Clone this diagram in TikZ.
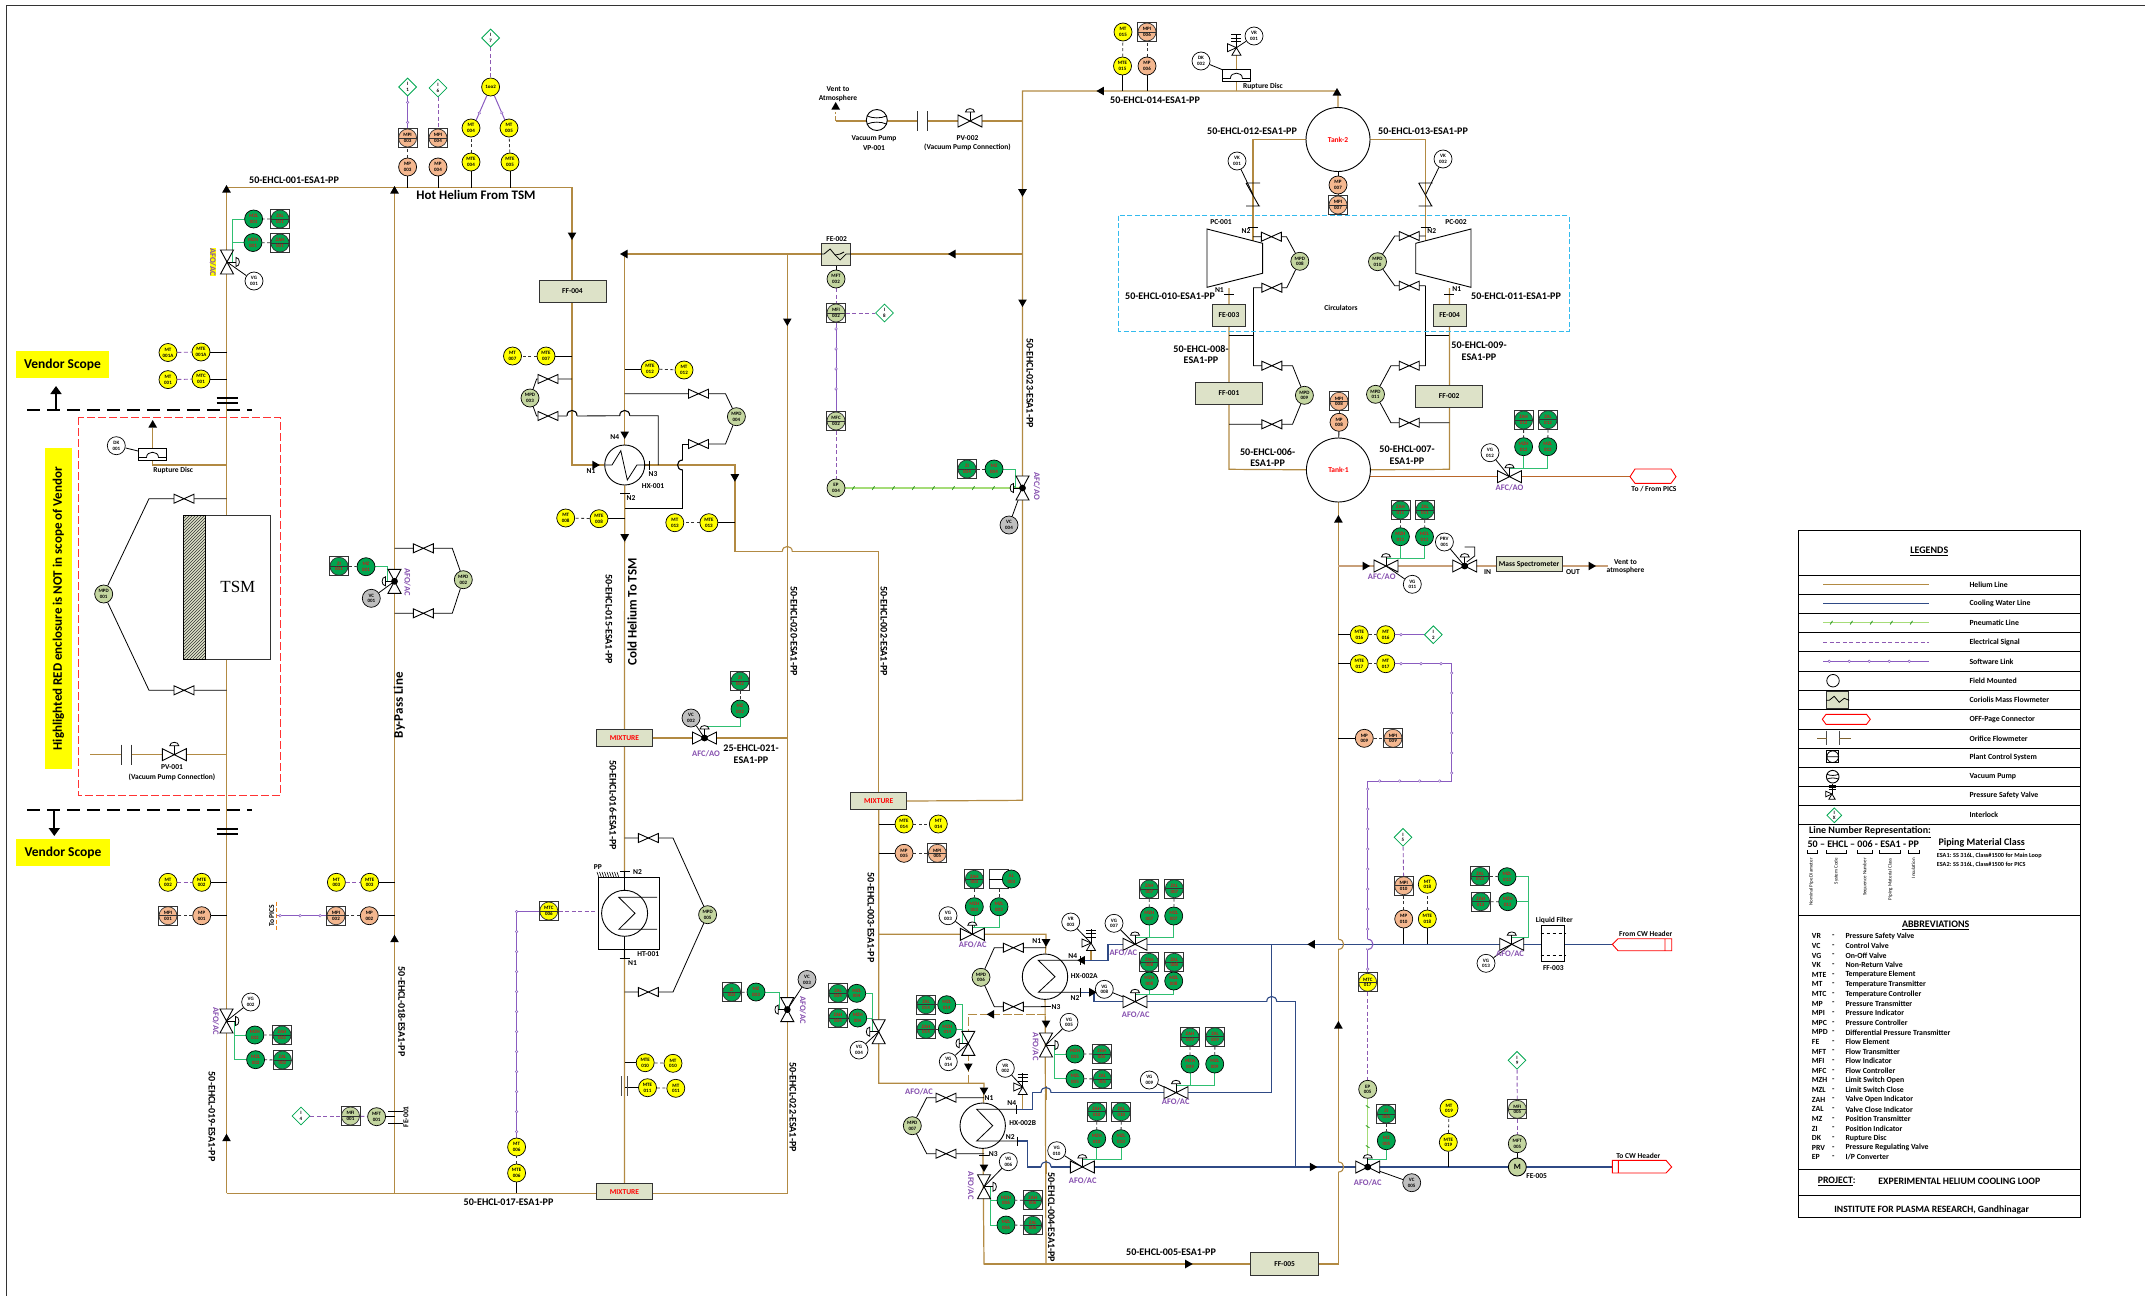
\documentclass[tikz,border=0pt]{standalone}
\usepackage{fontspec}
\setmainfont{Carlito}
\newfontfamily\tsmfont{Liberation Serif}
\usetikzlibrary{arrows.meta,backgrounds,calc,decorations.markings,patterns,shapes.geometric}
\definecolor{hecol}{HTML}{B28A43}
\definecolor{cwcol}{HTML}{2F4A85}
\definecolor{rustcol}{HTML}{B9662A}
\definecolor{speccol}{HTML}{C8A07A}
\definecolor{linkcol}{HTML}{8A5CC0}
\definecolor{sigcol}{HTML}{7030A0}
\definecolor{gncol}{HTML}{2FBF71}
\definecolor{pncol}{HTML}{A5DC78}
\definecolor{instyel}{HTML}{FFFF00}
\definecolor{instgrn}{HTML}{00A650}
\definecolor{instpch}{HTML}{F4B78F}
\definecolor{instolv}{HTML}{C4D6A0}
\definecolor{instgry}{HTML}{BFBFBF}
\definecolor{boxcol}{HTML}{DDE2C8}
\definecolor{tagred}{HTML}{D01818}
\definecolor{iblue}{HTML}{33BBEE}
\newcommand{\tagfont}{\fontsize{5}{5.8}\selectfont\bfseries}
\newcommand{\sz}[1]{\fontsize{#1}{#1}\selectfont\bfseries}
\tikzset{
inst/.style={circle, draw, line width=.7, minimum size=18, inner sep=0, align=center, font=\tagfont},
panel/.style={rectangle, draw=black!80, line width=.8, minimum size=19, inner sep=0, align=center, font=\tagfont,
  path picture={\draw[fill=#1, line width=.7] (path picture bounding box.center) circle (9pt);
  \draw[line width=.7] (path picture bounding box.west) -- (path picture bounding box.east);}},
ilk/.style={diamond, draw=instgrn, fill=white, line width=.8, minimum size=18, inner sep=0, align=center, font=\tagfont},
equip/.style={rectangle, draw=black!80, fill=boxcol, line width=1, inner sep=0, font=\sz{7.5}},
lbl/.style={inner sep=0, font=\sz{7.5}, align=center},
lnum/.style={inner sep=0, font=\sz{10.1}, align=center},
afo/.style={inner sep=0, font=\sz{8.5}, text=sigcol!85},
flowtip/.style={regular polygon, regular polygon sides=3, fill=black, minimum size=10, inner sep=0},
he/.style={draw=hecol, line width=1.2},
cw/.style={draw=cwcol, line width=1.1},
tap/.style={draw=black, line width=.8},
sig/.style={draw=black!80, line width=.8, dash pattern=on 3pt off 2.5pt},
esig/.style={draw=sigcol!80, line width=.9, dash pattern=on 4pt off 2.5pt},
gn/.style={draw=gncol, line width=1},
slink/.style={draw=linkcol, line width=1, postaction={decorate, decoration={markings,
  mark=between positions 6pt and -3pt step 20pt with {\draw[linkcol, fill=white, line width=.5] (0,0) circle (1.3pt);}}}},
pneu/.style={draw=pncol, line width=1.2, postaction={decorate, decoration={markings,
  mark=between positions 8pt and -3pt step 20pt with {\draw[green!50!black!70!pncol, line width=.8] (-1.2,1.8) -- (1.2,-1.8);}}}},
pics/vlv/.style args={#1/#2}{code={\draw[fill=white, line width=.9] (-#1,-#2) -- (#1,#2) -- (#1,-#2) -- (-#1,#2) -- cycle;}},
pics/act/.style={code={\draw[line width=.8] (0,0) -- (0,-9);
  \draw[fill=white, line width=.8] (-4.5,-9) .. controls (-4.5,-13.5) and (4.5,-13.5) .. (4.5,-9) -- cycle;}},
pics/hop/.style args={#1/#2}{code={\draw[white, line width=2.4] (-5,0) -- (5,0); \draw[#2, line width=1.1] (0,-7) -- (0,7);
  \draw[#1, line width=1.1] (-5,0) .. controls (-5,-7) and (5,-7) .. (5,0);}},
pics/rdisc/.style={code={\draw[fill=white, line width=.8] (-14,-6) rectangle (14,6);
  \draw[line width=.8] (-14,3) -- (-6,3) .. controls (-6,-4) and (6,-4) .. (6,3) -- (14,3);}},
pics/psv/.style={code={\draw[fill=white, line width=.8] (0,0) -- (4.5,7.5) -- (-4.5,7.5) -- cycle;
  \draw[fill=white, line width=.8] (0,0) -- (-9,-4) -- (-9,4) -- cycle;
  \draw[line width=.8] (0,0) -- (0,-14) (-5,-13) -- (5,-13) (-5,-9.5) -- (5,-9.5) (-5,-6) -- (5,-6);}},
pics/vpump/.style={code={\draw[fill=white, line width=.9] (0,0) circle (10.5pt);
  \draw[line width=.8] (-9.6,-4) .. controls (-4,-1.5) and (4,-1.5) .. (9.6,-4) (-9.6,4) .. controls (-4,1.5) and (4,1.5) .. (9.6,4);}},
pics/ckv/.style={code={\draw[line width=.9] (-7,-11.5) -- (7,-11.5) (-7,-11.5) -- (6,11.5) (-7,11.5) -- (7,11.5);}},
}
\begin{document}
\begin{tikzpicture}[x=1pt, y=-1pt]
\useasboundingbox (0,0) rectangle (2145,1296);
\draw[line width=1, black!80] (6,1296) -- (6,5) -- (2145,5);
% pipe corners
\foreach \n/\x/\y in {pa1/226.5/187.5, pb1/394.5/187.5, pc1/572/187.5, pa2/226.5/1193.3, pb2/394.5/1193.3, pf2/787.3/1193.3,
  pd1/624.7/254, pf1/787.3/254, ph1/1022.5/254, ph0/1022.5/91, phv/1022.5/121, phm/1022.5/800.3,
  pe1/734.9/465, pe2/734.9/551.7, pg0/878.7/551.7, pg1/878.7/934.3, pg2/878.7/1083.3, pi1/1046/934.3, pi2/1046/1264,
  pj1/984/1083.3, pj2/984/1264, pm2/1338.4/1264, pk0/1229/288, pk1/1229/469.3, pl0/1253/241, pn0/1425.7/241, po0/1449.4/288, po1/1449.4/469.3,
  pst/1338.4/566, pvent/1608/566, pq1/968.3/1014.3, pq2/968.3/1083.3, pr1/1046/1014.3, cpics/1630/476.7,
  pvac/835.7/121, pvup/835.7/112, pvlf/90/754.7, prd1/152.7/465, prd2/152.7/428, prd3/226.5/465, ptie1/1229/335.7, ptie2/1253/335.7, ptie3/1425.7/335.7, ptie4/1449.4/335.7,
  psv1/1236.4/47.7, rd002/1236.4/75.4, rd001/152.5/454.5, ck1/1253/194.5, ck2/1425.7/194.5, psv3/1091/943, psv2/1022.7/1087, pp3/1091/960.3, pp2/1022.7/1109.3,
  cwin/1612.3/944.3, cwout/1612.3/1167, ca1/1108/944.3, ca2/1108/960.3, ca3/1080/960.3, cb0/1271.7/944.3, cb1/1271.7/1092.7, cb2/1032.3/1092.7, cb3/1032.3/1109.3, cb4/1016.7/1109.3,
  cc0/1295.7/1167, cc1/1295.7/1001.7, cc2/1094/1001.7, cc3/1094/992.3, cc4/1080/992.3, cd0/1027.7/1167, cd1/1027.7/1141, cd2/1017.3/1141,
  VV001/227/262, VV002/226.5/1021, VV003/972.3/934.3, VV004/878.7/1031.7, VV005/1046/1045, VV006/984/1186.7, VV007/1135/944.3, VV008/1135/1001.7, VV009/1176/1092.7, VV010/1082.3/1167, VV011/1386/566, VV012/1509.5/476.7, VV013/1511.7/944.3, VV014/968.3/1043.3,
  VQ001/394.5/581.3, VQ002/704.5/738, VQ003/787.3/1009.6, VQ004/1022.5/488, VQ005/1367.7/1167, VPRV/1464.7/566, VPV1/174.3/754.7, VPV2/970/121,
  gv01/184/498.7, gv02/184/690.3, gv03/423.3/548.3, gv04/423.3/613.3, gv05/548/379, gv06/548/416, gv07/698.5/393.7, gv08/698.5/444, gv09/648.3/838, gv10/648.3/992, gv11/1013.3/947.7, gv12/1013.3/1006.7, gv13/946/1097.7, gv14/946/1153.7,
  gv15/1271.4/236.7, gv16/1271.8/287.7, gv17/1271.8/365.7, gv18/1271.8/424.3, gv19/1409.2/236, gv20/1409.2/285.7, gv21/1409.2/365.7, gv22/1409.2/422.7,
  arA0/56/410, arA1/56/386, arB0/54.3/810.3, arB1/54.3/836}
  \coordinate (\n) at (\x,\y);
% instruments
\foreach \a/\b/\x/\y in {MT/001A/168/352.5, MTE/001A/201/352, MT/001/168/379.6, MTC/001/201/379, MT/002/168/882.3, MTE/002/201.7/882.3, MT/003/336.4/882.3, MTE/003/369.7/882.3,
  MT/004/471/128, MT/005/509/128, MTE/004/471/162, MTE/005/510/162, MT/006/516.6/1147, MTE/006/516.6/1173, MT/007/512.5/356, MTE/007/546/356, MT/008/565.7/518, MTE/008/599/518.7,
  MTE/010/645.2/1062.7, MT/010/673/1063.3, MTE/011/647.5/1087.7, MT/011/675.8/1088.3, MTE/012/650/369, MT/012/684/370, MT/013/674.8/522.7, MTE/013/708.9/522.7, MTE/014/904/824, MT/014/938.3/824,
  MT/015/1123/32, MTE/015/1122.5/66, MTE/016/1359.3/634.7, MT/016/1385.7/634.7, MTE/017/1359.3/663.7, MT/017/1385.7/663.7, MT/018/1427.3/884.3, MTE/018/1427.3/919, MT/019/1449/1108.3, MTE/019/1448.3/1142.3}
  \node[inst, fill=instyel] (\a\b) at (\x,\y) {\a\\\b};
\node[inst, fill=instyel] (loo2) at (490.6,87) {1oo2};
\node[panel=instyel] (MTC006) at (548.8,911) {MTC\\006};
\node[panel=instyel] (MTC017) at (1367.7,982.3) {MTC\\017};
\foreach \a/\b/\x/\y in {MP/001/201.7/915.7, MP/002/369.3/915.7, MP/003/407.6/167, MP/004/438/167, MP/005/904/853.3, MP/006/1147/66, MP/007/1338/185, MP/008/1339/422.3, MP/009/1364.3/738.3, MP/010/1403.7/919}
  \node[inst, fill=instpch] (\a\b) at (\x,\y) {\a\\\b};
\foreach \a/\b/\x/\y in {MPI/001/168/915.7, MPI/002/336/915.7, MPI/003/407.6/138, MPI/004/438/138, MPI/005/937.3/853.3, MPI/006/1147/32, MPI/007/1338/205, MPI/008/1339/401.3, MPI/009/1393/738.3, MPI/010/1403.7/885.7}
  \node[panel=instpch] (\a\b) at (\x,\y) {\a\\\b};
\foreach \a/\b/\x/\y in {MPD/001/103.7/594, MPD/002/463.3/579.7, MPD/003/530/398, MPD/004/736.4/416.7, MPD/005/707.6/914.7, MPD/006/981/977.3, MPD/007/912.3/1125.7, MPD/008/1299.8/261.3, MPD/009/1304.4/395.3, MPD/010/1377.5/261.7, MPD/011/1375.5/394.3,
  MFT/001/376.6/1116.7, MFT/002/836/279, MFT/005/1517.3/1143.7, EP/004/836/488, EP/005/1367.7/1089.3}
  \node[inst, fill=instolv] (\a\b) at (\x,\y) {\a\\\b};
\foreach \a/\b/\x/\y in {MFI/001/350.5/1116, MFI/002/836/313, MFC/002/836/421, MFI/005/1517.3/1109.3}
  \node[panel=instolv] (\a\b) at (\x,\y) {\a\\\b};
\foreach \a/\b/\x/\y in {MZL/001/253.6/219, MZH/001/253/242.5, MZH/002/254.9/1035, MZL/002/255.6/1059.7, MZ/001/366/566.7, MZ/002/740/709, MZ/003/756/992, MZ/004/994/469, MZ/005/1386.3/1140.7,
  MZH/003/974.3/906.7, MZL/003/999/906.7, MZL/004/856.7/993.3, MZH/004/857.7/1018, MZH/005/1075/1054, MZL/005/1075/1078.7, MZH/006/1006/1200.3, MZL/006/1006/1225, MZH/007/1149.3/916, MZL/007/1173.7/916,
  MZH/008/1149.3/981, MZL/008/1173.7/981, MZH/009/1190/1064, MZL/009/1214.7/1064, MZH/010/1096.7/1138.7, MZL/010/1121/1138.7, MZH/011/1400.4/536.7, MZL/011/1424.5/536.7, MZH/012/1523.6/446.7, MZL/012/1547.8/446.7,
  MZL/013/1507/876.7, MZH/013/1507.7/901.7, MZL/014/946.7/1004.7, MZH/014/947.3/1029.3}
  \node[inst, fill=instgrn, text=tagred] (\a\b) at (\x,\y) {\a\\\b};
\foreach \a/\b/\x/\y in {ZAL/001/280/219, ZAH/001/280/243, ZAH/002/282/1035, ZAL/002/282.4/1060, ZI/001/339/566.3, ZI/002/740/681, ZI/003/731.7/992.3, ZI/004/967/469, ZI/005/1386.3/1114,
  ZAH/003/974.3/879.3, ZAL/004/838/993.3, ZAH/004/838/1018, ZAH/005/1101.7/1054, ZAL/005/1102.3/1079, ZAH/006/1032.7/1200.3, ZAL/006/1032.7/1225.3, ZAH/007/1149.3/889, ZAL/007/1174.3/888.7, ZAH/008/1149.3/962.3, ZAL/008/1174.3/962.3,
  ZAH/009/1190/1037, ZAL/009/1215/1036.7, ZAH/010/1096.7/1111.7, ZAL/010/1121.3/1111.7, ZAH/011/1400.4/510, ZAL/011/1425/510, ZAH/012/1523.6/420, ZAL/012/1548/419.7, ZAL/013/1480/876.3, ZAH/013/1480.7/901.7, ZAL/014/926/1004.7, ZAH/014/926/1029.3}
  \node[panel=instgrn, text=tagred] (\a\b) at (\x,\y) {\a\\\b};
\node[rectangle, draw=black!80, minimum size=19, inner sep=0] (zal003b) at (999,879) {};
\draw[line width=.7] (zal003b.west) -- (zal003b.east);
\node[inst, fill=instgrn, text=tagred] (ZAL003) at (1011.3,879) {AL\\003};
\foreach \a/\b/\x/\y in {VG/001/254/281, VG/002/250.7/1002, VG/003/948/915.7, VG/004/859/1050, VG/005/1069/1022.3, VG/006/1008.3/1161.7, VG/007/1114/923.3, VG/008/1104.3/989.3, VG/009/1149.3/1080, VG/010/1056.7/1150.7, VG/011/1412.3/584.3, VG/012/1490/452.7, VG/013/1486/963.3, VG/014/948.3/1061.7,
  VK/001/1237/161, VK/002/1443/159, VR/001/1254/36, VR/002/1005.3/1068.3, VR/003/1070.7/922, DK/001/116.3/445.7, DK/002/1201/61, PRV/001/1444.4/542}
  \node[inst, fill=white] (\a\b) at (\x,\y) {\a\\\b};
\foreach \a/\b/\x/\y in {VC/001/371.3/598.3, VC/002/691/718, VC/003/807/979.5, VC/004/1009/525, VC/005/1411.7/1182.7}
  \node[inst, fill=instgry] (\a\b) at (\x,\y) {\a\\\b};
\foreach \n/\x/\y in {1/407.6/87, 6/438/88, 7/490.6/38, 8/884.5/313, 4/301/1116, 2/1433.3/634.7, 5/1403/837.3, 9/1517/1060.3}
  \node[ilk] (ilk\n) at (\x,\y) {I\\\n};
% equipment
\foreach \n/\x/\y/\w/\h/\t in {ff004/572.5/291/67/22/FF-004, ff001/1229/393.2/67.3/21.7/FF-001, ff002/1449.2/396.5/67/21.6/FF-002, ff005/1284.6/1264/67.3/22.3/FF-005,
  fe003/1229/315.5/33.8/21.6/FE-003, fe004/1449.6/315.2/33.2/22.3/FE-004, fe002/836/254/28.8/22/{}, massp/1529/564.2/66/15/{Mass Spectrometer}}
  \node[equip, minimum width=\w, minimum height=\h] (\n) at (\x,\y) {\t};
\foreach \n/\x/\y in {mix1/624.5/1191.6, mix2/624.5/738, mix3/878.7/801.2}
  \node[equip, minimum width=56, minimum height=16.7, text=red] (\n) at (\x,\y) {MIXTURE};
\node[circle, draw, fill=white, line width=.9, minimum size=64, inner sep=0, text=red, font=\sz{7.5}] (tk1) at (1338.4,470) {Tank-1};
\node[circle, draw, fill=white, line width=.9, minimum size=64, inner sep=0, text=red, font=\sz{7.5}] (tk2) at (1338,139.5) {Tank-2};
\node[circle, draw, fill=white, line width=.9, minimum size=40] (hx001) at (624.7,465) {};
\node[circle, draw, fill=white, line width=.9, minimum size=45.4] (hx2a) at (1045,976.7) {};
\node[circle, draw, fill=white, line width=.9, minimum size=45.4] (hx2b) at (982.7,1125.7) {};
\node[rectangle, draw, fill=white, line width=1, minimum width=61.5, minimum height=71.6] (ht001) at (629.2,913.5) {};
\node[circle, draw, line width=.9, minimum size=46] (ht001c) at (624.6,913.3) {};
\node[rectangle, draw=black!80, fill=white, line width=1, minimum width=64.3, minimum height=143.3, font=\tsmfont\fontsize{17}{17}\selectfont] (tsm) at (237.85,587.35) {TSM};
\node[rectangle, draw=black, fill=boxcol, line width=.9, minimum width=22.4, minimum height=143.3] (tsmb) at (194.5,587.35) {};
\node[rectangle, draw=black, pattern=north east lines, pattern color=black!80, line width=.9, minimum width=22.4, minimum height=143.3] (tsmh) at (194.5,587.35) {};
\node[rectangle, draw, line width=.9, fill=white, minimum width=23.7, minimum height=36] (ff003) at (1552.8,943.7) {};
\node[circle, draw, fill=instolv, line width=.9, minimum size=18, inner sep=0, font=\sz{8}] (fe005m) at (1517.3,1167) {M};
\draw[line width=.9, dashed] (ff003.west |- 0,933.3) -- (ff003.east |- 0,933.3) (ff003.west |- 0,955) -- (ff003.east |- 0,955);
\begin{pgfonlayer}{background}
% helium
\draw[he] (pa2) -- (pa1) -- (pc1) |- (hx001.west);
\draw[he] (pb1) -- (pb2);
\draw[he] (pa2) -- (pf2) -- (pf1);
\draw[he] (hx001) -- (pd1) -- (ph1);
\draw[he] (hx001) -- (mix2) -- (mix1);
\draw[he] (hx001) -- (pe1) -- (pe2) -- (pg0) -- (mix3);
\draw[he] (mix3) -- (phm) -- (ph0) -| (tk2);
\draw[he] (mix2) -- (pf1 |- mix2);
\draw[he] (mix3) -- (pg2) -- (pj1) -- (hx2b);
\draw[he] (pg1) -- (pi1) -- (hx2a);
\draw[he] (hx2a) -- (pi2) -- (pj2) -- (hx2b);
\draw[he] (pj2) -- (pm2) -- (tk1);
\draw[he, dashed, line width=1.2, dash pattern=on 9pt off 2.5pt] (pr1) -- (pq1) -- (pq2);
\draw[he] (tk2) -| (pl0);
\draw[he] (tk2) -| (pn0);
\draw[he] (pk0) -- (pk1) -- (tk1);
\draw[he] (po0) -- (po1) -- (tk1);
\draw[he] (phv) -- (pvac);
\draw[he, dash pattern=on 5pt off 2pt] (pvac) -- (pvup);
\draw[he] (pvlf) -- (VPV1) -- (pa1 |- VPV1);
\draw[he] (prd2) -- (prd1) -- (prd3);
\draw[he] (ph0 -| psv1) -- (psv1);
\draw[he] (pp3) -- (psv3);
\draw[he] (pp2) -- (psv2);
\draw[draw=speccol, line width=1.3] (pst) -- (massp.west |- pst) (massp.east |- pst) -- (pvent);
\draw[draw=rustcol, line width=1.2] (tk1 |- cpics) -- (cpics);
% cooling water
\draw[cw] (cwin) -- (ca1) -- (ca2) -- (ca3);
\draw[cw] (cb0) -- (cb1) -- (cb2) -- (cb3) -- (cb4);
\draw[cw] (cc0) -- (cc1) -- (cc2) -- (cc3) -- (cc4);
\draw[cw] (cwout) -- (cd0) -- (cd1) -- (cd2);
% tapping points
\foreach \n/\p in {MTE001A/pa1, MTC001/pa1, MTE002/pa1, MP001/pa1, MTE003/pb1, MP002/pb1, MTE007/pc1, MTE008/pd1, MTE012/pd1, MTE013/pe1, MTE010/pd1, MTE014/pg0, MP005/pg0, MTE016/pm2, MTE017/pm2, MP009/pm2, MFT001/pb1}
  \draw[tap] (\n) -- (\p |- \n);
\draw[tap] (MTE011) -- (624.6,1087.7);
\foreach \n/\p in {MP003/pa1, MP004/pa1, MTE004/pa1, MTE005/pa1, MTE015/ph0, MP006/ph0, MP010/cwin, MTE018/cwin, MTE019/cwout, MTE006/pa2}
  \draw[tap] (\n) -- (\n |- \p);
\draw[tap] (MFT002) -- (fe002);
\draw[tap] (MP007) -- (tk2);
\draw[tap] (MP008) -- (tk1);
\draw[tap] (MFT005) -- (fe005m);
\foreach \m/\a/\b/\pa/\pb/\d in {MPD001/gv01/gv02/pa1/pa1/-35, MPD002/gv03/gv04/pb1/pb1/29, MPD003/gv05/gv06/pc1/gv06/-11.4, MPD004/gv07/gv08/pd1/gv08/27, MPD005/gv09/gv10/pd1/pd1/24.7,
  MPD006/gv11/gv12/pi1/pi1/-19, MPD007/gv13/gv14/pj1/pj1/-19.3, MPD008/gv15/gv16/pl0/pl0/15, MPD009/gv17/gv18/pl0/pk0/20.7, MPD010/gv19/gv20/pn0/pn0/-14.5, MPD011/gv21/gv22/pn0/po0/-18.3}
  \draw[tap] (\pa |- \a) -- (\a) -- ($(\a)+(\d,0)$) -- (\m) -- ($(\b)+(\d,0)$) -- (\b) -- (\pb |- \b);
\draw[tap] (gv06) -- (658.3,415.7) -- (658.3,465);
\draw[tap] (gv08) -- (682.8,444) -- (682.8,508) -- (pd1 |- 0,508);
\draw[tap] (gv16 -| pl0) -- (gv17 -| pl0);
\draw[tap] (gv20 -| pn0) -- (gv21 -| pn0);
\draw[tap] (ptie1) -- (ptie2) (ptie3) -- (ptie4);
% instrument signals
\foreach \a/\b in {MP001/MPI001, MP002/MPI002, MP003/MPI003, MTE004/MT004, MTE005/MT005, MTE006/MT006, MTE007/MT007, MTE008/MT008, MTE010/MT010, MTE011/MT011, MTE012/MT012, MTE013/MT013, MTE014/MT014, MP005/MPI005, MTE015/MT015, MP006/MPI006, MP007/MPI007, MP008/MPI008, MP009/MPI009, MP010/MPI010, MTE016/MT016, MTE017/MT017, MTE018/MT018, MTE019/MT019,
  ZI001/MZ001, ZI002/MZ002, ZI003/MZ003, ZI004/MZ004, ZI005/MZ005, zal003b/MZL003, ZAH003/MZH003}
  \draw[sig] (\a) -- (\b);
\foreach \i in {001,002,004,005,006,007,008,009,010,011,012,013,014}
  \draw[sig] (ZAL\i) -- (MZL\i) (ZAH\i) -- (MZH\i);
\foreach \a/\b in {MT001A/MTE001A, MT001/MTC001, MT002/MTE002, MT003/MTE003, ilk6/MPI004, ilk7/loo2, MFT002/MFI002, MFI002/ilk8, MFC002/EP004, ilk4/MFI001, MFI001/MFT001, ilk5/MPI010, MTC017/EP005, ilk9/MFI005, MFI005/MFT005}
  \draw[esig] (\a) -- (\b);
\draw[esig] (MTC006) -- (595.8,911);
\draw[slink] (ilk1) -- (MPI003);
\draw[slink] (MT004) -- (471,132) -- (loo2);
\draw[slink] (MT005) -- (509,129.5) -- (loo2);
\draw[slink] (MFI002) -- (MFC002);
\draw[slink] (MT016) -- (ilk2);
\draw[slink] (MT017) -- (1451.7,663.7) -- (1451.7,781) -- (1367.7,781) -- (MTC017);
\draw[slink] (MT006) -- (516.6,911) -- (MTC006);
\draw[slink] (MPI002) -- (276.7,915.7);
\draw[pneu] (EP004) -- (VQ004);
\draw[pneu] (EP005) -- (VQ005);
% valve links
\foreach \i in {001,002,003,004,005,006,007,008,009,010,011,012,013,014} \draw[tap] (VG\i) -- (VV\i);
\foreach \i in {001,002,003,004,005} \draw[tap] (VC\i) -- (VQ\i);
\draw[tap] (VK001) -- (ck1);
\draw[tap] (VK002) -- (ck2);
\draw[tap] (VR001) -- (psv1);
\draw[tap] (VR002) -- (psv2);
\draw[tap] (VR003) -- (psv3);
\draw[tap] (DK001) -- (rd001);
\draw[tap] (DK002) -- (rd002);
\draw[tap] (PRV001) -- (VPRV);
\foreach \i/\d in {003/11.3, 007/12, 008/4.3, 009/12, 010/11.6, 011/12, 012/12.3}
  \draw[gn] (MZL\i.south) -- ++(0,\d) -| (VV\i) (MZH\i.south) -- ++(0,\d);
\foreach \i/\d in {001/5, 002/8, 005/8, 006/6.7}
  \draw[gn] (MZL\i.west) -| ($(VV\i)+(\d,0)$) (MZH\i.west) -| ($(VV\i)+(\d,0)$);
\foreach \i/\d in {004/-6.7, 014/-6}
  \draw[gn] (MZL\i.east) -| ($(VV\i)+(\d,0)$) (MZH\i.east) -| ($(VV\i)+(\d,0)$);
\draw[gn] (MZL013.east) -| ($(VV013)+(17,-7)$) -- ($(VV013)+(0,-7)$) (MZH013.east) -- ($(VV013)+(17,-42.6)$);
\draw[gn] (MZ001.east) -| ($(VQ001)+(-7,0)$);
\draw[gn] (MZ003.east) -| ($(VQ003)+(-8,0)$);
\draw[gn] (MZ004.east) -| ($(VQ004)+(-7,0)$);
\draw[gn] (MZ002.south) -- ++(0,8) -| (VQ002);
\draw[gn] (MZ005.south) -- ++(0,9.6) -| (VQ005);
\end{pgfonlayer}
% arrow heads on the lines
\foreach \x/\y/\a [count=\i] in {226.5/190/0, 394.5/191/0, 572/235/180, 625/254/90, 787.3/321/180, 953/254/90, 1022.5/302/180, 1022.5/191.7/180, 1101.4/91/90, 1337/93/0, 624.7/434/180, 594.8/465/-90, 734.9/476.7/180, 624.7/536.7/180,
  226.5/1138.7/0, 394.5/939.7/0, 1338.4/520/0, 1338.4/1026/0, 1365/566/-90, 1591/566/-90, 1312.3/944.3/90, 1082.3/960.3/90, 1091.7/992.3/-90, 1312.3/1167/-90, 1046/941.7/180, 1046/1023/180, 991.7/1014.3/90, 968.3/1066/180, 984/1090/180, 984/1167/180, 1187.7/1264/-90, 835.7/107/0, 152.7/425/0}
  \node[flowtip, rotate=\a] (tip\i) at (\x,\y) {};
% valves
\foreach \n in {gv01,gv02,gv03,gv04,gv05,gv06,gv07,gv08,gv09,gv10,gv11,gv12,gv13,gv14,gv15,gv16,gv17,gv18,gv19,gv20,gv21,gv22}
  \pic at (\n) {vlv=10/4.5};
\foreach \n in {VV003,VV007,VV008,VV009,VV010,VV011,VV012,VV013,VPV1,VPV2,VPRV,VQ005,VQ002}
  {\pic at (\n) {act}; \pic at (\n) {vlv=12/6};}
\foreach \n/\a in {VV001/-90, VV002/-90, VV005/-90, VV006/-90, VV004/90, VV014/90, VQ001/90, VQ003/90, VQ004/90}
  {\pic[rotate=\a] at (\n) {act}; \pic[rotate=90] at (\n) {vlv=12/6.5};}
\foreach \n in {VQ001,VQ002,VQ003,VQ004,VQ005,VPRV}
  \fill (\n) circle (3.4pt);
\draw[tap] (VPRV) ++(0,-19) -- ++(10,0) -- ++(0,9) -- ++(-8,6);
\foreach \x/\y/\r/\a/\b in {572/415.7/0/black/hecol, 624.7/415.7/0/black/hecol, 682.8/465/90/black/hecol, 787.3/551.7/0/hecol/hecol, 1271.7/1001.7/0/cwcol/cwcol, 1046/1092.7/0/cwcol/hecol, 1046/1167/0/cwcol/hecol, 1338.4/944.3/-90/hecol/cwcol, 1338.4/1167/-90/hecol/cwcol, 1367.7/944.3/-90/linkcol/cwcol}
  \pic[rotate=\r] at (\x,\y) {hop=\a/\b};
\pic at (rd001) {rdisc};
\pic at (rd002) {rdisc};
\pic at (psv1) {psv};
\pic at (psv2) {psv};
\pic at (psv3) {psv};
\pic at (ck1) {ckv};
\pic at (ck2) {ckv};
\pic at (876.8,120) {vpump};
% orifices
\foreach \x/\y in {126.7/754.7, 922.5/121} {
  \fill[white] (\x-5,\y-9) rectangle (\x+5,\y+9);
  \draw[line width=.9, black!80] (\x-5,\y-10) -- (\x-5,\y+10) (\x+5,\y-10) -- (\x+5,\y+10);}
\draw[line width=.9, black!70] (621.9,1076) -- (621.9,1096) (627.3,1076) -- (627.3,1096);
\draw[tap] (388,1111) -- (402.6,1111) (388,1123) -- (402.6,1123);
% nozzles
\foreach \x/\y in {624.7/871.3, 624.7/958.3, 1253/227.3, 1229/294, 1425.7/227.3, 1449.4/294.3, 625/493.3, 1046/1006.7, 984/1155}
  \draw[tap] (\x-5,\y) -- (\x+5,\y);
\foreach \x/\y in {649.5/465, 1080/960.3, 1080/992.3, 1016.7/1109.3, 1017.3/1141}
  \draw[tap] (\x,\y-4.5) -- (\x,\y+4.5);
% exchangers and circulators
\draw[tap] (hx001.west) -- (612,465) -- (620.8,450.7) -- (627.3,480) -- (636.9,465) -- (649.5,465);
\draw[tap] (ca3) -- (1038.3,960.3) -- (1055,976.7) -- (1038.3,992.3) -- (cc4);
\draw[tap] (cb4) -- (976.7,1109.3) -- (992.7,1125.7) -- (976.7,1141) -- (cd2);
\draw[tap] (657,897.3) -- (618.8,897.3) -- (635,913.3) -- (618.8,929.3) -- (657,929.3);
\draw[tap] (ht001c.north) -- (ht001c.north |- 0,871.3) (ht001c.south) -- (ht001c.south |- 0,958.3);
\foreach \x in {597,599.5,...,617} \draw[line width=.6] (\x,872) -- (\x+2,877.7);
\draw[fill=white, line width=.9] (1207,229) -- (1262.6,243.3) -- (1262.6,273.3) -- (1207,287.3) -- cycle;
\draw[fill=white, line width=.9] (1471,229) -- (1415.7,243.3) -- (1415.7,273.3) -- (1471,287.3) -- cycle;
\draw[tap] (fe002.west) -- ++(3,0) -- ++(6,-5) -- ++(5,6) -- ++(5,-1) -- ++(4,-2) ;
\draw[tap] (fe002.west) ++(14,1) -- ++(5,5) -- ++(6,-6) -- (fe002.east);
% enclosures
\draw[red!80, line width=1, dash pattern=on 8pt off 3pt] (78.3,417.3) rectangle (280,795.7);
\draw[iblue, line width=1, dash pattern=on 5pt off 2.5pt] (1118.8,215.7) rectangle (1569,331);
\draw[black, line width=1.7, dash pattern=on 13pt off 7pt] (27,410) -- (251.7,410);
\draw[black, line width=1.7, dash pattern=on 13pt off 7pt] (27,810.3) -- (251.7,810.3);
\foreach \y in {398,403,829,834} \draw[line width=1.6] (216.7,\y) -- (238,\y);
\node[fill=instyel, minimum width=93, minimum height=27, inner sep=0, font=\sz{13.5}] (vendA) at (62.5,364.5) {Vendor Scope};
\node[fill=instyel, minimum width=94, minimum height=27, inner sep=0, font=\sz{13.5}] (vendB) at (63,852.7) {Vendor Scope};
\draw[line width=1.8, -{Triangle[length=8pt,width=11pt]}] (arA0) -- (arA1);
\draw[line width=1.8, -{Triangle[length=8pt,width=11pt]}] (arB0) -- (arB1);
\node[fill=instyel, rotate=90, minimum width=321, minimum height=26.7, inner sep=0, font=\sz{13}] (scopeT) at (58.3,608.8) {Highlighted RED enclosure is NOT in scope of Vendor};
% off-page connectors
\draw[red, line width=.9, fill=white] (1630,476.7) -- (1635,469) -- (1671,469) -- (1676,476.7) -- (1671,483.3) -- (1635,483.3) -- cycle;
\draw[red, line width=.9, fill=white] (cwin) -- (1618,938.7) -- (1671.7,938.7) -- (1671.7,950.7) -- (1618,950.7) -- cycle (1665,938.7) -- (1665,950.7);
\draw[red, line width=.9, fill=white] (cwout) -- (1612.3,1160.3) -- (1666,1160.3) -- (1671.7,1167) -- (1666,1173) -- (1612.3,1173) -- cycle (1618.3,1160.3) -- (1618.3,1173);
\draw[orange!70!brown, line width=1, dash pattern=on 4pt off 2pt] (276.7,901.7) -- (276.7,930);
% texts
\foreach \x/\y/\t [count=\i] in {173.3/470.3/Rupture Disc, 172/767.3/PV-001, 172/777.3/{(Vacuum Pump Connection)}, 838/89/Vent to, 838/98/Atmosphere, 874/139/Vacuum Pump, 874/148/VP-001, 967.5/138/PV-002, 967.5/147.5/{(Vacuum Pump Connection)}, 1263/86/Rupture Disc,
  1221/222.3/PC-001, 1456/222.3/PC-002, 1246/231.3/N2, 1431.8/231.3/N2, 1219.4/290.3/N1, 1456.7/289.3/N1, 1341/308.3/Circulators, 836.7/239/FE-002, 1654/489.3/{To / From PICS}, 1487.7/571.7/IN, 1573/571.7/OUT, 1625.5/561.7/Vent to, 1625.5/570.3/atmosphere,
  614.7/436.7/N4, 591/471/N1, 653/474.3/N3, 631/498.3/N2, 653/486.3/HX-001, 597.8/866.7/PP, 637.5/871.7/N2, 632.6/962.7/N1, 648.3/953.7/HT-001, 1036.7/941.3/N1, 1072.7/955.7/N4, 1075/998.3/N2, 1056/1006.7/N3, 1084.3/975.7/HX-002A,
  989/1097.7/N1, 1011.7/1103.3/N4, 1010.3/1136.7/N2, 993.3/1154.3/N3, 1022.7/1123.3/HX-002B, 1536.7/1175.7/FE-005, 1554.3/920.3/Liquid Filter, 1553.3/968.3/FF-003, 1645.7/934.3/From CW Header, 1638.3/1156.3/To CW Header}
  \node[lbl] (txt\i) at (\x,\y) {\t};
\node[lbl, rotate=90] (txtpics) at (271.7,915.7) {To PICS};
\node[lbl, rotate=90] (txtfe1) at (406,1116.7) {FE-001};
\foreach \x/\y/\t [count=\i] in {294/180/50-EHCL-001-ESA1-PP, 508.6/1202.7/50-EHCL-017-ESA1-PP, 1155/100.7/50-EHCL-014-ESA1-PP, 1252/131.7/50-EHCL-012-ESA1-PP, 1423/131.3/50-EHCL-013-ESA1-PP, 1170/296.7/50-EHCL-010-ESA1-PP, 1516/296.7/50-EHCL-011-ESA1-PP,
  1201/348.7/50-EHCL-008-, 1201/360.7/ESA1-PP, 1479/345.7/50-EHCL-009-, 1479/357.7/ESA1-PP, 1267.6/451.7/50-EHCL-006-, 1267.6/463.7/ESA1-PP, 1407/449/50-EHCL-007-, 1407/461.7/ESA1-PP, 751/748/25-EHCL-021-, 751/760/ESA1-PP, 1171/1252.7/50-EHCL-005-ESA1-PP}
  \node[lnum] (num\i) at (\x,\y) {\t};
\foreach \x/\y/\t [count=\i] in {212/1116.7/019, 401.8/1011.7/018, 609/619/015, 613/805/016, 794/631/020, 793/1107/022, 884/631/002, 1030/383/023, 871/917.7/003, 1051.3/1217.3/004}
  \node[lnum, rotate=-90] (rnum\i) at (\x,\y) {50-EHCL-\t-ESA1-PP};
\node[lnum, font=\sz{13}] (hothe) at (476,195) {Hot Helium From TSM};
\node[lnum, font=\sz{13}, rotate=90] (coldhe) at (632,612) {Cold Helium To TSM};
\node[lnum, font=\sz{13}, rotate=90] (bypass) at (399.3,705.3) {By-Pass Line};
\foreach \x/\y/\t [count=\i] in {972.7/944.3/{AFO/AC}, 1123.3/952.3/{AFO/AC}, 1135.7/1014.3/{AFO/AC}, 1175.7/1101.7/{AFO/AC}, 1082.7/1180.3/{AFO/AC}, 919/1091.7/{AFO/AC}, 1367.7/1182.3/{AFO/AC}, 1510/953.3/{AFO/AC}, 1381.7/576.3/{AFC/AO}, 1509.5/487.3/{AFC/AO}, 706/754/{AFC/AO}}
  \node[afo] (afoh\i) at (\x,\y) {\t};
\foreach \x/\y/\t [count=\i] in {407.3/582/{AFO/AC}, 215.8/1021/{AFO/AC}, 1035.7/1046.7/{AFO/AC}, 971/1185.7/{AFO/AC}, 803/1010/{AFO/AC}, 1037/486/{AFC/AO}}
  \node[afo, rotate=-90] (afov\i) at (\x,\y) {\t};
\node[afo, rotate=-90, fill=instyel] (afovy) at (213,262) {AFO/AC};
% legend box
\draw[line width=1] (1798.3,530) rectangle (2080.7,1217.7);
\foreach \y in {575.7,594.7,613.7,632.7,651.7,671.3,690.3,709.7,729,748.3,767.3,786.3,805.3,824.7,915.7,1169.3,1195.7}
  \draw[line width=.9] (1798.3,\y) -- (2080.7,\y);
\node[lbl, font=\sz{10}] (lgtitle) at (1929.3,551) {\underline{LEGENDS}};
\foreach \t/\y [count=\i] in {Helium Line/584.3, Cooling Water Line/603.7, Pneumatic Line/622.7, Electrical Signal/642.3, Software Link/661.3, Field Mounted/680.3, Coriolis Mass Flowmeter/699.3, OFF-Page Connector/719.3, Orifice Flowmeter/738.3, Plant Control System/757.3, Vacuum Pump/776.3, Pressure Safety Valve/795.3, Interlock/814.3}
  \node[lbl, font=\sz{7.8}, anchor=west] (lgr\i) at (1969.3,\y) {\t};
\coordinate (lga) at (1823.3,0);
\coordinate (lgb) at (1929.3,0);
\draw[he] (lga |- lgr1) -- (lgb |- lgr1);
\draw[cw] (lga |- lgr2) -- (lgb |- lgr2);
\draw[pneu] (lga |- lgr3) -- (lgb |- lgr3);
\draw[esig] (lga |- lgr4) -- (lgb |- lgr4);
\draw[slink] (lga |- lgr5) -- (lgb |- lgr5);
\node[circle, draw, line width=.8, minimum size=12.5] (lgfm) at (1833,680.7) {};
\node[equip, minimum width=22, minimum height=16.7] (lgcor) at (1837.7,700.3) {};
\draw[tap] (lgcor.west) -- ++(3,0) -- ++(5,-4) -- ++(5,6) -- ++(5,-4) -- (lgcor.east);
\draw[red, line width=.9] (1822.3,719.3) -- (1826,714.3) -- (1866.5,714.3) -- (1870.3,719.3) -- (1866.5,724.3) -- (1826,724.3) -- cycle;
\draw[line width=.9, black!70] (1826.7,730.7) -- (1826.7,745) (1839,730.7) -- (1839,745);
\draw[hecol!70!black, line width=.9] (1817.3,738.3) -- (1826.7,738.3) (1839,738.3) -- (1851.3,738.3);
\node[rectangle, draw, line width=.9, minimum size=12, inner sep=0] (lgpcs) at (1832.7,756.7) {};
\draw[line width=.8] (lgpcs.center) circle (5.8pt) (lgpcs.west) -- (lgpcs.east);
\pic[scale=.6] at (1832.7,776.7) {vpump};
\pic[scale=.7] at (1832,794) {psv};
\node[ilk, minimum size=15] (lgilk) at (1834.3,815.3) {I\\X};
% line number key
\node[lbl, font=\sz{10}] (lnkey) at (1870,832) {\underline{Line Number Representation:}};
\node[lbl, font=\sz{10}] (lnfmt) at (1863.3,843.7) {50 -- EHCL -- 006 - ESA1 - PP};
\node[lbl, font=\sz{10}] (lnpmc) at (1981.7,844) {\underline{Piping Material Class}};
\node[lbl, font=\sz{6.2}, anchor=west] (lnes1) at (1936.7,856) {ESA1: SS 316L, Class\#1500 for Main Loop};
\node[lbl, font=\sz{6.2}, anchor=west] (lnes2) at (1936.7,864.7) {ESA2: SS 316L, Class\#1500 for PICS};
\foreach \p/\q in {1807.3/1817.3, 1826.7/1846.7, 1857.3/1872, 1879.3/1900.7, 1908.3/1919.7}
  \draw[line width=.8] (\p,850) -- (\p,853.3) -- (\q,853.3) -- (\q,850);
\foreach \x/\t [count=\i] in {1811.3/Nominal Pipe Diameter, 1836.3/System Code, 1865/Sequence Number, 1890.3/Piping Material Class, 1913.3/Insulation}
  \node[rotate=90, anchor=east, inner sep=0, font=\fontsize{5}{5}\selectfont] (lnr\i) at (\x,858) {\t};
% abbreviations
\node[lbl, font=\sz{10}] (abtitle) at (1935.7,925) {\underline{ABBREVIATIONS}};
\foreach \a/\t [count=\i] in {VR/Pressure Safety Valve, VC/Control Valve, VG/On-Off Valve, VK/Non-Return Valve, MTE/Temperature Element, MT/Temperature Transmitter, MTC/Temperature Controller, MP/Pressure Transmitter, MPI/Pressure Indicator, MPC/Pressure Controller, MPD/Differential Pressure Transmitter, FE/Flow Element, MFT/Flow Transmitter, MFI/Flow Indicator, MFC/Flow Controller, MZH/Limit Switch Open, MZL/Limit Switch Close, ZAH/Valve Open Indicator, ZAL/Valve Close Indicator, MZ/Position Transmitter, ZI/Position Indicator, DK/Rupture Disc, PRV/Pressure Regulating Valve, EP/{I/P Converter}} {
  \node[lbl, font=\sz{7.8}, anchor=west] (aba\i) at (1811.7,{936.3+9.61*(\i-1)}) {\a};
  \node[lbl, font=\sz{7.8}] (abd\i) at (1833.3,{936.3+9.61*(\i-1)}) {-};
  \node[lbl, font=\sz{7.8}, anchor=west] (abt\i) at (1845.3,{936.3+9.61*(\i-1)}) {\t};}
\node[lbl, font=\sz{9.8}] (prja) at (1836.7,1181.7) {\underline{PROJECT}:};
\node[lbl, font=\sz{9.8}] (prjb) at (1959.3,1181.7) {EXPERIMENTAL HELIUM COOLING LOOP};
\node[lbl, font=\sz{9.6}] (prjc) at (1931.7,1210) {INSTITUTE FOR PLASMA RESEARCH, Gandhinagar};
\end{tikzpicture}
\end{document}
